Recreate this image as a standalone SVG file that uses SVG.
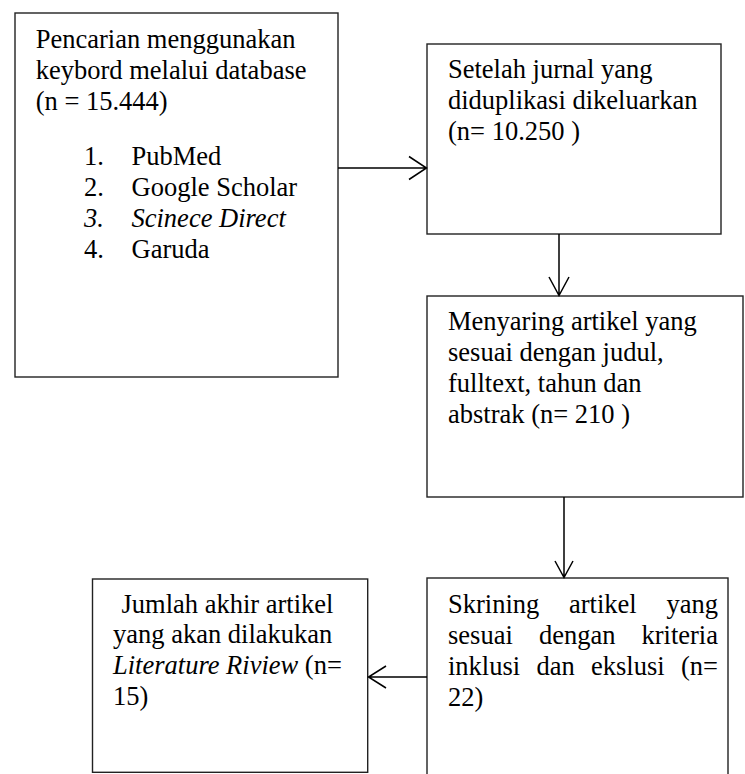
<svg xmlns="http://www.w3.org/2000/svg" width="745" height="774" viewBox="0 0 745 774">
<style>
.box{fill:#fff;stroke:#222;stroke-width:1.4}
.t{font-family:"Liberation Serif","Times New Roman",serif;font-size:26.5px;fill:#000}
.i{font-style:italic}
.c{fill:none;stroke:#000;stroke-width:1.5}
</style>
<rect width="745" height="774" fill="#fff"/>
<g id="n1">
<rect class="box" x="15" y="13" width="323" height="364"/>
<text class="t" x="35.7" y="48.3">Pencarian menggunakan</text>
<text class="t" x="35.7" y="79.3">keybord melalui database</text>
<text class="t" x="35.7" y="110">(n = 15.444)</text>
<text class="t" x="84" y="165">1.</text><text class="t" x="131.5" y="165">PubMed</text>
<text class="t" x="84" y="196">2.</text><text class="t" x="131.5" y="196">Google Scholar</text>
<text class="t i" x="84" y="227">3.</text><text class="t i" x="131.5" y="227">Scinece Direct</text>
<text class="t" x="84" y="258">4.</text><text class="t" x="131.5" y="258">Garuda</text>
</g>
<g id="n2">
<rect class="box" x="427" y="44" width="294" height="190"/>
<text class="t" x="448" y="78">Setelah jurnal yang</text>
<text class="t" x="448" y="109">diduplikasi dikeluarkan</text>
<text class="t" x="448" y="140">(n= 10.250 )</text>
</g>
<g id="n3">
<rect class="box" x="427" y="296" width="316" height="201"/>
<text class="t" x="448" y="330">Menyaring artikel yang</text>
<text class="t" x="448" y="361">sesuai dengan judul,</text>
<text class="t" x="448" y="392">fulltext, tahun dan</text>
<text class="t" x="448" y="423">abstrak (n= 210 )</text>
</g>
<g id="n4">
<rect class="box" x="427" y="578" width="301" height="210"/>
<text class="t" x="448" y="613">Skrining</text>
<text class="t" x="569" y="613">artikel</text>
<text class="t" x="718" y="613" text-anchor="end">yang</text>
<text class="t" x="448" y="644">sesuai</text>
<text class="t" x="539" y="644">dengan</text>
<text class="t" x="718" y="644" text-anchor="end">kriteria</text>
<text class="t" x="448" y="675">inklusi</text>
<text class="t" x="536.5" y="675">dan</text>
<text class="t" x="591" y="675">ekslusi</text>
<text class="t" x="718" y="675" text-anchor="end">(n=</text>
<text class="t" x="448" y="706">22)</text>
</g>
<g id="n5">
<rect class="box" x="92.5" y="579" width="275.2" height="193.3"/>
<text class="t" x="121.5" y="612.5">Jumlah akhir artikel</text>
<text class="t" x="113" y="643">yang akan dilakukan</text>
<text class="t" x="113" y="673.5"><tspan class="i">Literature Riview</tspan> (n=</text>
<text class="t" x="113" y="704.5">15)</text>
</g>
<g id="connectors">
<path class="c" d="M338 168H426.5M409 156.5L426.5 168L409 179.5"/>
<path class="c" d="M559 234V295.5M549 277L559 295.5L569 277"/>
<path class="c" d="M564 497V577.5M555 561L564 577.5L573 561"/>
<path class="c" d="M427 677H368.5M386 666L368.5 677L386 688"/>
</g>
</svg>
